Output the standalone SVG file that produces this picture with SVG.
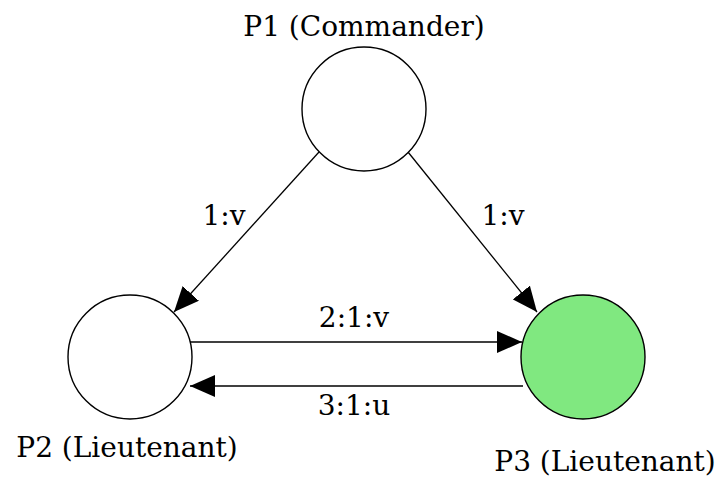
<svg xmlns="http://www.w3.org/2000/svg" width="717" height="479" viewBox="0 0 717 479">
  <style>
    .node { stroke: #000; stroke-width: 1.4; }
    .plain { fill: #fff; }
    .green { fill: #80E880; }
    .lbl { font-family: 'DejaVu Serif', serif; font-size: 28px; fill: #000; }
    .edge { stroke: #000; stroke-width: 1.3; fill: none; marker-end: url(#arr); }
  </style>
  <defs>
    <marker id="arr" markerUnits="userSpaceOnUse" markerWidth="26" markerHeight="22" refX="25" refY="11" orient="auto">
      <path d="M0,0 L25,11 L0,22 z" fill="#000"/>
    </marker>
  </defs>
  <rect width="717" height="479" fill="#fff"/>
  <g id="edges">
    <line class="edge" x1="319" y1="152" x2="174" y2="312"/>
    <line class="edge" x1="408" y1="152" x2="537" y2="312"/>
    <line class="edge" x1="189" y1="342" x2="522" y2="342"/>
    <line class="edge" x1="523" y1="386" x2="190" y2="386"/>
    <text class="lbl" x="224" y="225" text-anchor="middle">1:v</text>
    <text class="lbl" x="503" y="225" text-anchor="middle">1:v</text>
    <text class="lbl" x="354" y="327" text-anchor="middle">2:1:v</text>
    <text class="lbl" x="354" y="415" text-anchor="middle">3:1:u</text>
  </g>
  <g id="p1">
    <circle class="node plain" cx="364" cy="109" r="62"/>
    <text class="lbl" x="364" y="36" text-anchor="middle">P1 (Commander)</text>
  </g>
  <g id="p2">
    <circle class="node plain" cx="130" cy="357" r="62"/>
    <text class="lbl" x="127" y="457" text-anchor="middle">P2 (Lieutenant)</text>
  </g>
  <g id="p3">
    <circle class="node green" cx="583" cy="357" r="62"/>
    <text class="lbl" x="605" y="471" text-anchor="middle">P3 (Lieutenant)</text>
  </g>
</svg>
